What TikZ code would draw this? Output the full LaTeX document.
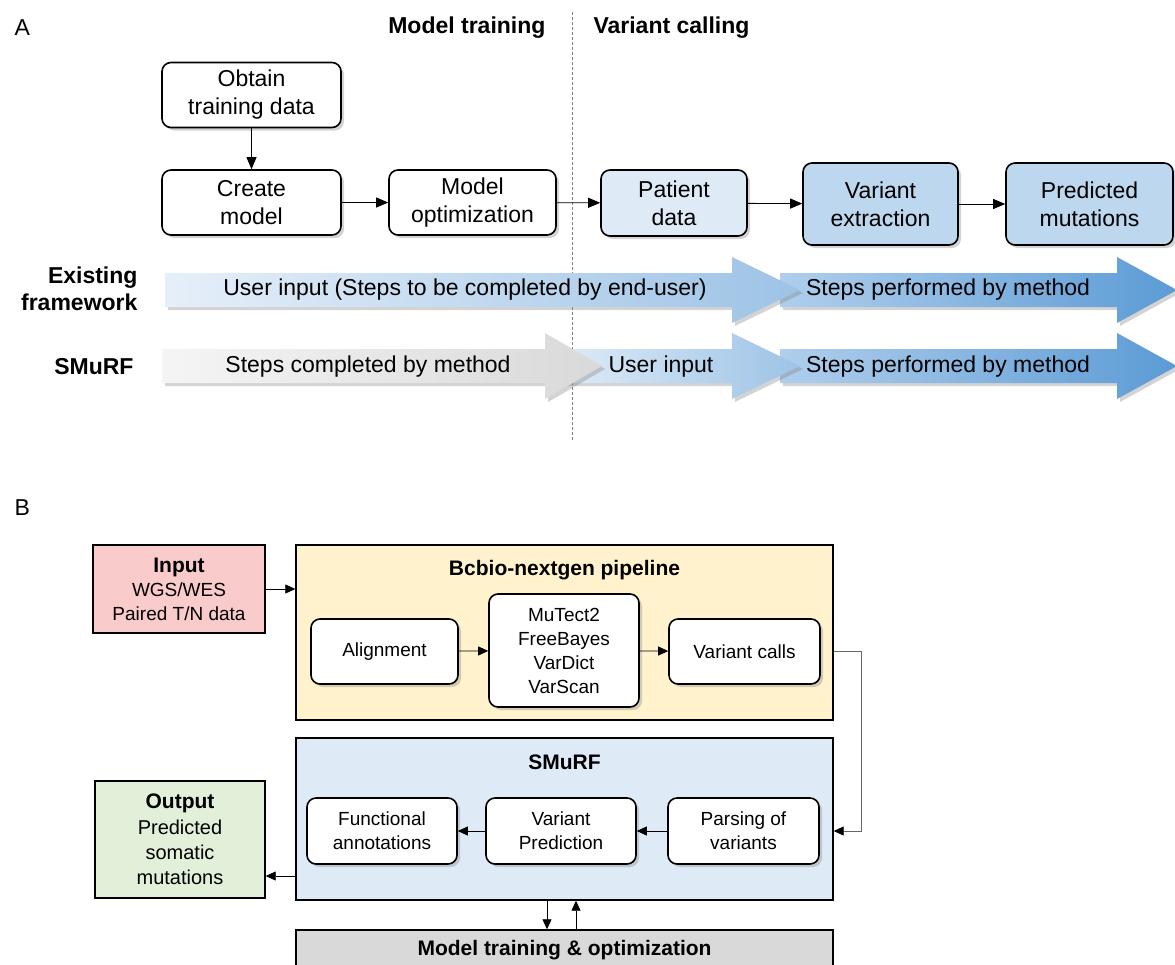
\documentclass[tikz,border=0pt]{standalone}
\usepackage{fontspec}
\setmainfont{Liberation Sans}
\usetikzlibrary{arrows.meta,shadows,positioning}

\definecolor{paleblue}{HTML}{DEEBF7}
\definecolor{midblue}{HTML}{BDD7EE}
\definecolor{inpink}{HTML}{FACBCB}
\definecolor{bcbioyel}{HTML}{FFF2CC}
\definecolor{outgreen}{HTML}{E2F0D9}
\definecolor{traingray}{HTML}{D9D9D9}
\definecolor{bandlight}{HTML}{E6EFF9}
\definecolor{bandmid}{HTML}{9DC3E6}
\definecolor{bandstart}{HTML}{B0CEEC}
\definecolor{banddark}{HTML}{5B9BD5}

\tikzset{
  boxshadow/.style={drop shadow={shadow xshift=3pt,shadow yshift=-3pt,opacity=0.35}},
  stepbox/.style={draw,line width=1.6pt,rounded corners=9pt,fill=white,align=center,
    inner sep=0pt,font=\fontsize{23}{28}\selectfont,boxshadow},
  subbox/.style={draw,line width=1.6pt,rounded corners=9pt,fill=white,align=center,
    inner sep=0pt,font=\fontsize{19}{24}\selectfont,boxshadow},
  groupbox/.style={draw,line width=1.4pt,align=center,inner sep=0pt},
  flowA/.style={line width=0.8pt,-{Triangle[length=12pt,width=10pt]}},
  flowB/.style={line width=0.8pt,-{Triangle[length=10pt,width=9pt,color=black]}},
  bandtext/.style={font=\fontsize{23}{28}\selectfont},
  rowlabel/.style={anchor=east,align=right,font=\bfseries\fontsize{23}{27}\selectfont},
}

% block arrow: x start, head start, tip, y centre, left colour, right colour
\newcommand{\bandarrow}[6]{%
  \shade[left color=#5,right color=#6,boxshadow]
    (#1,#4-17) -- (#2,#4-17) -- (#2,#4-33) -- (#3,#4) -- (#2,#4+33)
    -- (#2,#4+17) -- (#1,#4+17) -- cycle;}

\begin{document}
\begin{tikzpicture}[x=1pt,y=-1pt]
  \useasboundingbox (0,0) rectangle (1175,964);

  % panel A
  \node[anchor=west,font=\fontsize{23}{28}\selectfont] (labA) at (11,28) {A};
  \node[anchor=east,font=\bfseries\fontsize{23}{28}\selectfont] (ttrain) at (549,28) {Model training};
  \node[anchor=west,font=\bfseries\fontsize{23}{28}\selectfont] (tcall) at (590,28) {Variant calling};
  \draw[gray,line width=0.6pt,dash pattern=on 3pt off 2pt] (572,12) -- (572,442);

  \node[stepbox,minimum width=179pt,minimum height=65pt] (obtain) at (251.5,95) {Obtain\\training data};
  \node[stepbox,minimum width=179pt,minimum height=65pt] (create) at (251.5,202.5) {Create\\model};
  \node[stepbox,minimum width=167pt,minimum height=65pt] (optim) at (472.5,202.5) {Model\\optimization};
  \node[stepbox,fill=paleblue,minimum width=146pt,minimum height=66pt] (patient) at (674,203) {Patient\\data};
  \node[stepbox,fill=midblue,minimum width=155pt,minimum height=82pt] (extract) at (880.5,204) {Variant\\extraction};
  \node[stepbox,fill=midblue,minimum width=167pt,minimum height=82pt] (predict) at (1089.5,204) {Predicted\\mutations};

  \draw[flowA] (obtain) -- (create);
  \draw[flowA] (create) -- (optim);
  \draw[flowA] (optim) -- (patient);
  \draw[flowA] (patient) -- (extract);
  \draw[flowA] (extract) -- (predict);

  \node[rowlabel] (labexist) at (141,289) {Existing\\framework};
  \node[rowlabel] (labsmurf) at (137,367) {SMuRF};

  \bandarrow{780}{1117}{1177}{290}{bandstart}{banddark}
  \bandarrow{165}{732}{800}{290}{bandlight}{bandmid}
  \bandarrow{780}{1117}{1177}{366}{bandstart}{banddark}
  \bandarrow{560}{732}{800}{366}{paleblue}{bandmid}
  \bandarrow{162}{545}{602}{366}{white!96!black}{traingray}

  \node[bandtext] (txtuser) at (465,290) {User input (Steps to be completed by end-user)};
  \node[bandtext] (txtperfa) at (948,290) {Steps performed by method};
  \node[bandtext] (txtcomp) at (368,367) {Steps completed by method};
  \node[bandtext] (txtuserb) at (661,367) {User input};
  \node[bandtext] (txtperfb) at (948,367) {Steps performed by method};

  % panel B
  \node[anchor=west,font=\fontsize{23}{28}\selectfont] (labB) at (11,508) {B};

  \node[groupbox,fill=inpink,minimum width=172pt,minimum height=88pt,
        font=\fontsize{19}{24}\selectfont] (input) at (179,589)
        {{\bfseries\fontsize{21}{24}\selectfont Input}\\WGS/WES\\Paired T/N data};
  \node[groupbox,fill=bcbioyel,minimum width=537pt,minimum height=175pt] (bcbio) at (564.5,632.5) {};
  \node[font=\bfseries\fontsize{21}{24}\selectfont] (bcbiotitle) at (564.5,570) {Bcbio-nextgen pipeline};
  \node[subbox,minimum width=147pt,minimum height=65pt] (align) at (384.5,651.5) {Alignment};
  \node[subbox,minimum width=150pt,minimum height=113pt] (callers) at (564,650.5) {MuTect2\\FreeBayes\\VarDict\\VarScan};
  \node[subbox,minimum width=151pt,minimum height=65pt] (calls) at (744.5,651.5) {Variant calls};

  \node[groupbox,fill=paleblue,minimum width=537pt,minimum height=162pt] (smurf) at (564.5,819) {};
  \node[font=\bfseries\fontsize{21}{24}\selectfont] (smurftitle) at (564.5,762) {SMuRF};
  \node[subbox,minimum width=150pt,minimum height=66pt] (func) at (382,831) {Functional\\annotations};
  \node[subbox,minimum width=150pt,minimum height=66pt] (vpred) at (561,831) {Variant\\Prediction};
  \node[subbox,minimum width=151pt,minimum height=66pt] (parse) at (743.5,831) {Parsing of\\variants};

  \node[groupbox,fill=outgreen,minimum width=170pt,minimum height=117pt,
        font=\fontsize{20}{25.3}\selectfont] (output) at (180,839.5)
        {{\bfseries\fontsize{21}{25.3}\selectfont Output}\\Predicted\\somatic\\mutations};
  \node[groupbox,fill=traingray,minimum width=537pt,minimum height=40pt,
        font=\bfseries\fontsize{21}{24}\selectfont] (train) at (564.5,950) {Model training \& optimization};

  \coordinate (outlvl) at (0,876);
  \coordinate (dnx) at (547,0);
  \coordinate (upx) at (576,0);

  \draw[flowB] (input.east) -- (input.east -| bcbio.west);
  \draw[flowB] (align) -- (callers);
  \draw[flowB] (callers) -- (calls);
  \draw[flowB,draw=black!60] (calls.east -| bcbio.east) -- ++(28,0) |- (smurf.east |- parse);
  \draw[flowB] (parse) -- (vpred);
  \draw[flowB] (vpred) -- (func);
  \draw[flowB] (smurf.west |- outlvl) -- (output.east |- outlvl);
  \draw[flowB] (smurf.south -| dnx) -- (train.north -| dnx);
  \draw[flowB] (train.north -| upx) -- (smurf.south -| upx);
\end{tikzpicture}
\end{document}
